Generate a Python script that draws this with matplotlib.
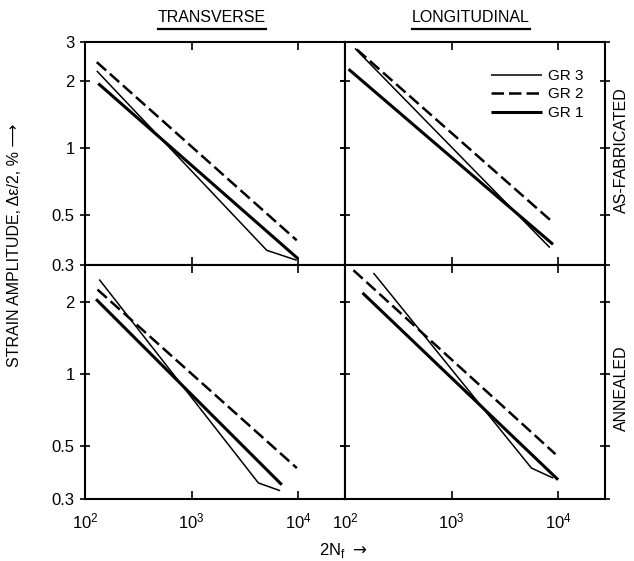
import matplotlib
matplotlib.use("Agg")
import matplotlib.pyplot as plt
from matplotlib.lines import Line2D

plt.rcParams['font.family'] = ['Liberation Sans', 'DejaVu Sans']
plt.rcParams['font.size'] = 11

# ---- data (2N_f, strain amplitude %) ----
series_names = ["GR 3", "GR 2", "GR 1"]

ta_gr1_x = [133, 10000];        ta_gr1_y = [1.95, 0.32]
ta_gr2_x = [129, 9700];         ta_gr2_y = [2.43, 0.387]
ta_gr3_x = [129, 5080, 9700];   ta_gr3_y = [2.22, 0.349, 0.315]

la_gr1_x = [108, 8970];         la_gr1_y = [2.26, 0.371]
la_gr2_x = [129, 8650];         la_gr2_y = [2.77, 0.472]
la_gr3_x = [124, 8360];         la_gr3_y = [2.80, 0.359]

tn_gr1_x = [127, 7030];         tn_gr1_y = [2.05, 0.344]
tn_gr2_x = [131, 9730];         tn_gr2_y = [2.25, 0.404]
tn_gr3_x = [136, 4240, 6780];   tn_gr3_y = [2.48, 0.350, 0.325]

ln_gr1_x = [146, 10000];        ln_gr1_y = [2.18, 0.361]
ln_gr2_x = [120, 9440];         ln_gr2_y = [2.71, 0.462]
ln_gr3_x = [185, 5620, 8980];   ln_gr3_y = [2.64, 0.404, 0.367]

x_ticks = [1e2, 1e3, 1e4]
x_tick_labels = [r'$\mathregular{10^2}$', r'$\mathregular{10^3}$', r'$\mathregular{10^4}$']
y_ticks_top = [0.3, 0.5, 1, 2, 3]
y_tick_labels_top = ['0.3', '0.5', '1', '2', '3']
y_ticks_bot = [0.3, 0.5, 1, 2]
y_tick_labels_bot = ['0.3', '0.5', '1', '2']

col_titles = ["TRANSVERSE", "LONGITUDINAL"]
row_titles = ["AS-FABRICATED", "ANNEALED"]

fig = plt.figure(figsize=(6.34, 5.61), dpi=100)
W, H = 634, 561

def pos(x0, x1, y0, y1):
    return [x0 / W, 1 - y1 / H, (x1 - x0) / W, (y1 - y0) / H]

ax_tl = fig.add_axes(pos(85, 345, 41.7, 265))
ax_tr = fig.add_axes(pos(345, 605, 41.7, 265))
ax_bl = fig.add_axes(pos(85, 345, 265, 499))
ax_br = fig.add_axes(pos(345, 605, 265, 499))

styles = {
    "GR 3": dict(color='black', lw=1.1, ls='-'),
    "GR 2": dict(color='black', lw=1.8, ls=(0, (5, 2))),
    "GR 1": dict(color='black', lw=2.2, ls='-'),
}

panels = [
    (ax_tl, [(ta_gr3_x, ta_gr3_y), (ta_gr2_x, ta_gr2_y), (ta_gr1_x, ta_gr1_y)], (0.3, 3.0), True, False),
    (ax_tr, [(la_gr3_x, la_gr3_y), (la_gr2_x, la_gr2_y), (la_gr1_x, la_gr1_y)], (0.3, 3.0), False, False),
    (ax_bl, [(tn_gr3_x, tn_gr3_y), (tn_gr2_x, tn_gr2_y), (tn_gr1_x, tn_gr1_y)], (0.3, 2.85), True, True),
    (ax_br, [(ln_gr3_x, ln_gr3_y), (ln_gr2_x, ln_gr2_y), (ln_gr1_x, ln_gr1_y)], (0.3, 2.85), False, True),
]

for ax, data, ylim, left_labels, bottom_labels in panels:
    for name, (xs, ys) in zip(series_names, data):
        ax.plot(xs, ys, label=name, solid_capstyle='butt', **styles[name])
    ax.set_xscale('log')
    ax.set_yscale('log')
    ax.set_xlim(100, 10 ** 4.44)
    ax.set_ylim(*ylim)
    ax.minorticks_off()
    ax.set_xticks(x_ticks)
    if ylim[1] > 2.9:
        ax.set_yticks(y_ticks_top)
        ax.set_yticklabels(y_tick_labels_top if left_labels else [''] * len(y_ticks_top))
    else:
        ax.set_yticks(y_ticks_bot)
        ax.set_yticklabels(y_tick_labels_bot if left_labels else [''] * len(y_ticks_bot))
    ax.set_xticklabels(x_tick_labels if bottom_labels else [''] * 3)
    ax.tick_params(axis='both', which='major', direction='inout', length=7, width=1.2,
                   top=True, right=True, labelsize=12, pad=4)
    ax.tick_params(axis='x', direction='in', length=6, pad=9)
    for s in ax.spines.values():
        s.set_linewidth(1.5)

ax_tr.legend(loc='upper left', bbox_to_anchor=(0.51, 0.94), frameon=False,
             handlelength=3.3, labelspacing=0.3, handletextpad=0.4, fontsize=11)

# titles
title_texts = []
for i, t in enumerate(col_titles):
    xc = [212, 471][i] / W
    title_texts.append(fig.text(xc, 1 - 18 / H, t, ha='center', va='center', fontsize=11.5))
fig.canvas.draw()
renderer = fig.canvas.get_renderer()
for txt in title_texts:
    bb = txt.get_window_extent(renderer).transformed(fig.transFigure.inverted())
    yline = 1 - 29 / H
    fig.add_artist(Line2D([bb.x0, bb.x1], [yline, yline], transform=fig.transFigure,
                          color='black', lw=1.6))

fig.text(621 / W, 1 - 150 / H, row_titles[0], rotation=90, ha='center', va='center', fontsize=11.5)
fig.text(621 / W, 1 - 388 / H, row_titles[1], rotation=90, ha='center', va='center', fontsize=11.5)

fig.text(15 / W, 1 - 245 / H, 'STRAIN AMPLITUDE, Δε/2, % ⟶', rotation=90,
         ha='center', va='center', fontsize=11.5)
fig.text(343 / W, 1 - 550 / H, r'2N$_{\mathregular{f}}$ $\rightarrow$', ha='center', va='center', fontsize=12)

fig.savefig('out.png', dpi=100)
